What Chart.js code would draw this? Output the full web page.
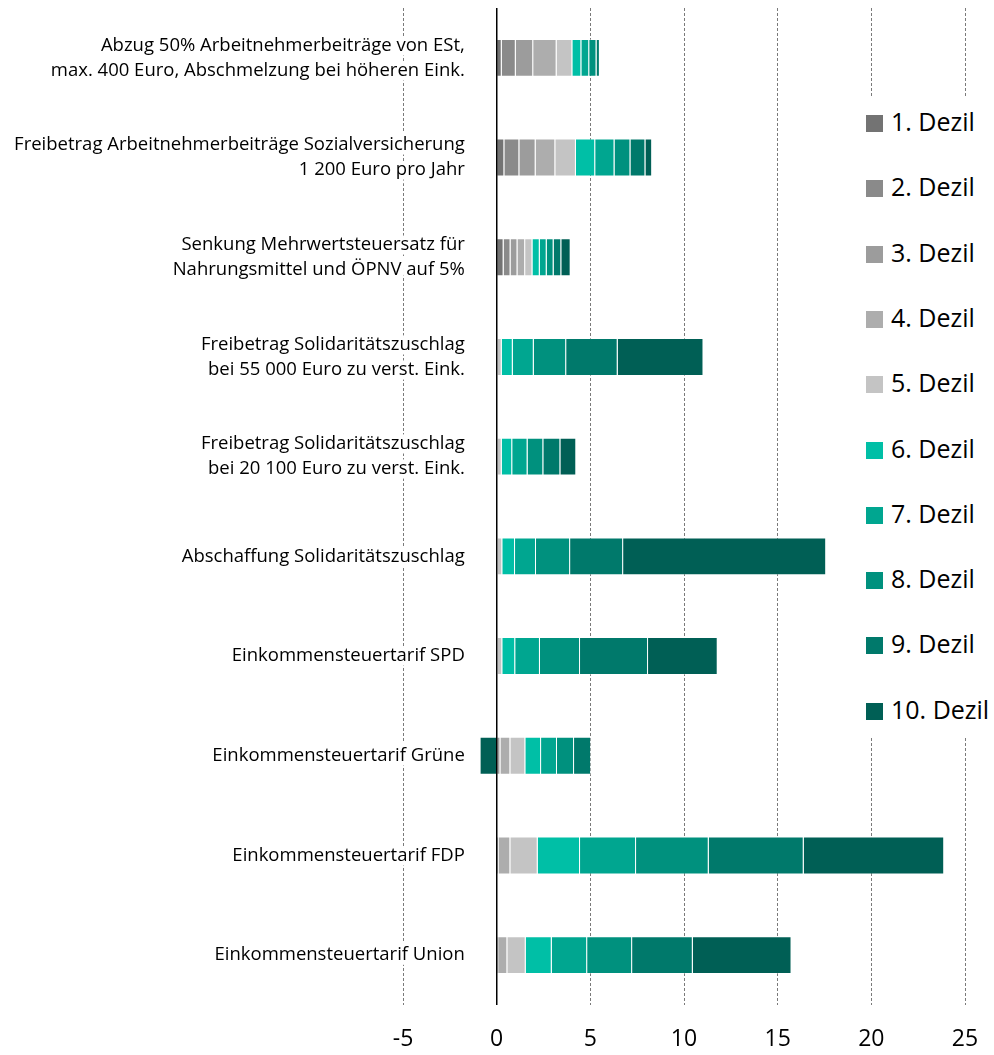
<!DOCTYPE html>
<html>
<head>
<meta charset="utf-8">
<script src="https://cdn.jsdelivr.net/npm/chart.js@4.4.0/dist/chart.umd.min.js"></script>
<style>
body { margin: 0; background: #fff; }
#wrap { position: relative; width: 994px; height: 1055px; }
#legend { position: absolute; left: 858px; top: 96px; width: 136px; height: 641px; background: #fff;
  font-family: "Open Sans"; font-size: 25px; color: #000; }
.item { position: absolute; left: 8px; height: 30px; line-height: 30px; white-space: nowrap; }
.box { display: inline-block; width: 17px; height: 17px; margin-right: 8px; vertical-align: -1px; }
</style>
</head>
<body>
<div id="wrap">
  <canvas id="chart" width="994" height="1055"></canvas>
  <div id="legend"></div>
</div>
<script>
// Massnahmen (top to bottom)
var categories = [
  ["Abzug 50% Arbeitnehmerbeiträge von ESt,", "max. 400 Euro, Abschmelzung bei höheren Eink."],
  ["Freibetrag Arbeitnehmerbeiträge Sozialversicherung", "1 200 Euro pro Jahr"],
  ["Senkung Mehrwertsteuersatz für", "Nahrungsmittel und ÖPNV auf 5%"],
  ["Freibetrag Solidaritätszuschlag", "bei 55 000 Euro zu verst. Eink."],
  ["Freibetrag Solidaritätszuschlag", "bei 20 100 Euro zu verst. Eink."],
  "Abschaffung Solidaritätszuschlag",
  "Einkommensteuertarif SPD",
  "Einkommensteuertarif Grüne",
  "Einkommensteuertarif FDP",
  "Einkommensteuertarif Union"
];

var seriesNames = ["1. Dezil", "2. Dezil", "3. Dezil", "4. Dezil", "5. Dezil",
                   "6. Dezil", "7. Dezil", "8. Dezil", "9. Dezil", "10. Dezil"];

// one array per decile, values in category order
var dezil1  = [0.27, 0.41, 0.37, 0,    0,    0,    0,    0,    0,    0];
var dezil2  = [0.75, 0.80, 0.37, 0,    0,    0,    0,    0,    0,    0];
var dezil3  = [0.93, 0.87, 0.37, 0,    0,    0,    0,    0.20, 0.10, 0.08];
var dezil4  = [1.25, 1.05, 0.41, 0.05, 0.05, 0.05, 0.05, 0.53, 0.63, 0.49];
var dezil5  = [0.84, 1.10, 0.39, 0.22, 0.22, 0.25, 0.25, 0.80, 1.46, 0.98];
var dezil6  = [0.48, 1.03, 0.39, 0.59, 0.56, 0.68, 0.69, 0.84, 2.26, 1.39];
var dezil7  = [0.42, 1.03, 0.37, 1.12, 0.82, 1.12, 1.32, 0.85, 2.99, 1.89];
var dezil8  = [0.39, 0.85, 0.37, 1.73, 0.84, 1.82, 2.14, 0.91, 3.88, 2.40];
var dezil9  = [0.18, 0.80, 0.41, 2.75, 0.91, 2.83, 3.63, 0.91, 5.07, 3.24];
var dezil10 = [0,    0.36, 0.50, 4.58, 0.85, 10.84, 3.72, -0.91, 7.50, 5.27];

var xTicks = [-5, 0, 5, 10, 15, 20, 25];

var seriesValues = [dezil1, dezil2, dezil3, dezil4, dezil5, dezil6, dezil7, dezil8, dezil9, dezil10];
var colors = ["#737373", "#8a8a8a", "#9c9c9c", "#adadad", "#c4c4c4",
              "#00bfa6", "#00a690", "#00917e", "#00796b", "#005f55"];

var datasets = seriesNames.map(function (name, i) {
  return {
    label: name,
    data: seriesValues[i],
    backgroundColor: colors[i],
    borderColor: "rgba(255,255,255,0.35)",
    borderWidth: 1,
    barPercentage: 0.38,
    categoryPercentage: 1
  };
});

function setTicks(s) { s.ticks = xTicks.map(function (v) { return { value: v }; }); }

var ctx = document.getElementById("chart");
var chart = new Chart(ctx, {
  type: "bar",
  data: { labels: categories, datasets: datasets },
  options: {
    indexAxis: "y",
    responsive: false,
    animation: false,
    layout: { padding: { top: 8, right: 29, bottom: 1, left: 403 } },
    plugins: { legend: { display: false }, tooltip: { enabled: false } },
    scales: {
      x: {
        type: "linear", stacked: true,
        min: xTicks[0], max: xTicks[xTicks.length - 1],
        afterBuildTicks: setTicks,
        afterFit: function (s) { s.height = 49; s.paddingLeft = 0; s.paddingRight = 0; },
        ticks: { font: { family: "Open Sans", size: 23 }, color: "#000", padding: 21 },
        grid: {
          color: function (c) { return c.tick && c.tick.value === 0 ? "transparent" : "#7a7a7a"; },
          lineWidth: 1, drawTicks: false
        },
        border: { display: false, dash: [3, 2] }
      },
      // solid zero line above the bars
      x2: {
        type: "linear", position: "bottom",
        min: xTicks[0], max: xTicks[xTicks.length - 1],
        afterBuildTicks: setTicks,
        afterFit: function (s) { s.height = 0; s.paddingLeft = 0; s.paddingRight = 0; },
        ticks: { display: false },
        grid: {
          color: function (c) { return c.tick && c.tick.value === 0 ? "#000" : "transparent"; },
          lineWidth: 1.5, drawTicks: false, z: 1
        },
        border: { display: false }
      },
      // labels anchored just left of the zero line (at x = -1.7)
      y: {
        stacked: true,
        position: { x: -1.7 },
        afterFit: function (s) { s.paddingTop = 0; s.paddingBottom = 0; },
        grid: { display: false, drawTicks: false },
        border: { display: false },
        ticks: {
          autoSkip: false,
          font: { family: "Open Sans", size: 18.5, lineHeight: 1.35 },
          color: "#000",
          padding: 0,
          textStrokeColor: "#fff",
          textStrokeWidth: 9,
          z: 1
        }
      }
    }
  }
});

// legend box on the right
var legend = document.getElementById("legend");
seriesNames.forEach(function (name, i) {
  var row = document.createElement("div");
  row.className = "item";
  row.style.top = (25 + 65.3 * i - 15) + "px";
  row.innerHTML = '<span class="box" style="background:' + colors[i] + '"></span>' + name;
  legend.appendChild(row);
});
</script>
</body>
</html>
